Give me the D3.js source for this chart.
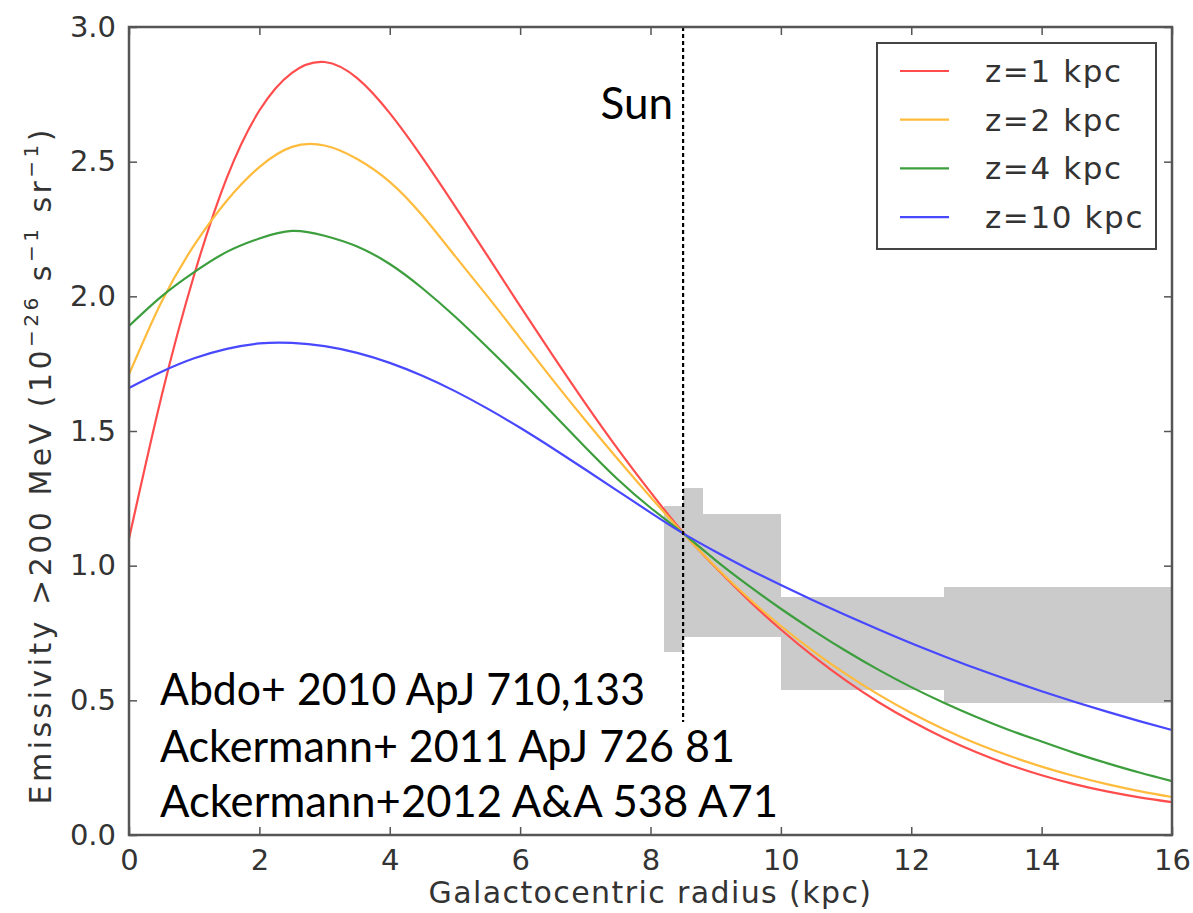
<!DOCTYPE html>
<html>
<head>
<meta charset="utf-8">
<script src="https://cdn.jsdelivr.net/npm/d3@7"></script>
<style>
  html, body { margin: 0; padding: 0; background: #fff; }
  svg { display: block; }
</style>
</head>
<body>
<svg id="chart" width="1193" height="913"></svg>
<script>
// Galactocentric radius samples (kpc)
const radius = [0, 0.5, 1, 1.5, 2, 2.5, 3, 3.5, 4, 4.5, 5, 5.5, 6, 6.5, 7, 7.5, 8,
  8.5, 9, 9.5, 10, 10.5, 11, 11.5, 12, 12.5, 13, 13.5, 14, 14.5, 15, 15.5, 16];

// Model emissivity profiles for different halo heights
const emisZ1 = [1.10, 1.63, 2.08, 2.44, 2.69, 2.83, 2.87, 2.81, 2.68, 2.515, 2.335, 2.15, 1.964,
  1.781, 1.603, 1.433, 1.273, 1.123, 0.993, 0.873, 0.763, 0.663, 0.573, 0.493, 0.423, 0.361,
  0.307, 0.261, 0.222, 0.189, 0.162, 0.140, 0.122];
const emisZ2 = [1.71, 1.98, 2.19, 2.355, 2.48, 2.555, 2.56, 2.51, 2.425, 2.30, 2.15, 2.00,
  1.845, 1.69, 1.54, 1.395, 1.255, 1.12, 0.995, 0.88, 0.776, 0.682, 0.597, 0.521, 0.453, 0.393,
  0.34, 0.294, 0.254, 0.219, 0.189, 0.163, 0.141];
const emisZ4 = [1.89, 2.00, 2.09, 2.165, 2.215, 2.243, 2.225, 2.185, 2.12, 2.03, 1.925, 1.81, 1.69,
  1.565, 1.44, 1.32, 1.215, 1.12, 1.02, 0.927, 0.84, 0.759, 0.683, 0.613, 0.549, 0.491, 0.438,
  0.39, 0.347, 0.305, 0.267, 0.232, 0.20];
const emisZ10 = [1.66, 1.72, 1.77, 1.805, 1.825, 1.827, 1.815, 1.79, 1.753, 1.705, 1.648, 1.583,
  1.512, 1.436, 1.357, 1.277, 1.197, 1.12, 1.052, 0.988, 0.928, 0.871, 0.816, 0.763, 0.712,
  0.664, 0.618, 0.575, 0.534, 0.495, 0.458, 0.423, 0.39];

const seriesNames = ["z=1 kpc", "z=2 kpc", "z=4 kpc", "z=10 kpc"];
const seriesColors = ["#ff4d4d", "#ffbb3c", "#3c9e3c", "#4848ff"];

// Measured emissivity bands: radial bin edges and lower/upper bounds
const binStart = [8.2, 8.5, 8.8, 10.0, 12.5];
const binEnd   = [8.5, 8.8, 10.0, 12.5, 16.0];
const bandLow  = [0.68, 0.735, 0.735, 0.54, 0.49];
const bandHigh = [1.22, 1.29, 1.19, 0.885, 0.92];

const sunRadius = 8.5;
const sunLineBottom = 0.42;

const xTicks = [0, 2, 4, 6, 8, 10, 12, 14, 16];
const yTicks = [0.0, 0.5, 1.0, 1.5, 2.0, 2.5, 3.0];

const references = [
  "Abdo+ 2010 ApJ 710,133",
  "Ackermann+ 2011 ApJ 726 81",
  "Ackermann+2012 A&A 538 A71"
];

// ---------------------------------------------------------------
const svg = d3.select("#chart");
const W = 1193, H = 913;
const m = { left: 129, right: 1172, top: 27, bottom: 835 };

svg.append("rect").attr("width", W).attr("height", H).attr("fill", "#fff");

const x = d3.scaleLinear().domain([0, 16]).range([m.left, m.right]);
const y = d3.scaleLinear().domain([0, 3]).range([m.bottom, m.top]);

const tickFont = "'DejaVu Sans', sans-serif";
const refFont = "Lato, 'Open Sans', sans-serif";
const axisColor = "#555";
const labelColor = "#333";

// Emissivity bands
const bands = d3.range(binStart.length).map(i => ({
  x0: binStart[i], x1: binEnd[i], lo: bandLow[i], hi: bandHigh[i]
}));
svg.append("g").selectAll("rect").data(bands).join("rect")
  .attr("x", d => x(d.x0))
  .attr("width", d => x(d.x1) - x(d.x0))
  .attr("y", d => y(d.hi))
  .attr("height", d => y(d.lo) - y(d.hi))
  .attr("fill", "#cbcbcb")
  .attr("shape-rendering", "crispEdges");

// Model curves (smooth spline through the sampled profile)
const allSeries = [emisZ1, emisZ2, emisZ4, emisZ10];
const line = d3.line()
  .x(d => x(d[0]))
  .y(d => y(d[1]))
  .curve(d3.curveNatural);

svg.append("clipPath").attr("id", "plotclip")
  .append("rect")
  .attr("x", m.left).attr("y", m.top)
  .attr("width", m.right - m.left).attr("height", m.bottom - m.top);

svg.append("g").attr("clip-path", "url(#plotclip)")
  .selectAll("path").data(allSeries).join("path")
  .attr("d", s => line(radius.map((r, i) => [r, s[i]])))
  .attr("fill", "none")
  .attr("stroke", (s, i) => seriesColors[i])
  .attr("stroke-width", 2.2)
  .attr("stroke-linejoin", "round");

// Solar circle marker
svg.append("line")
  .attr("x1", x(sunRadius)).attr("x2", x(sunRadius))
  .attr("y1", y(3.0)).attr("y2", y(sunLineBottom))
  .attr("stroke", "#000")
  .attr("stroke-width", 2.2)
  .attr("stroke-dasharray", "4,3");

svg.append("text")
  .attr("x", x(sunRadius) - 10)
  .attr("y", 119)
  .attr("text-anchor", "end")
  .attr("font-family", refFont)
  .attr("font-size", 44)
  .attr("fill", "#000")
  .text("Sun");

// Frame
svg.append("rect")
  .attr("x", m.left).attr("y", m.top)
  .attr("width", m.right - m.left).attr("height", m.bottom - m.top)
  .attr("fill", "none")
  .attr("stroke", axisColor)
  .attr("stroke-width", 2.5);

// Axes with inward ticks on all sides
const tickLen = 8;
const bottomAxis = d3.axisBottom(x).tickValues(xTicks).tickSize(-tickLen).tickPadding(14)
  .tickFormat(d3.format("d"));
const topAxis = d3.axisTop(x).tickValues(xTicks).tickSize(-tickLen).tickFormat("");
const leftAxis = d3.axisLeft(y).tickValues(yTicks).tickSize(-tickLen).tickPadding(13)
  .tickFormat(d3.format(".1f"));
const rightAxis = d3.axisRight(y).tickValues(yTicks).tickSize(-tickLen).tickFormat("");

function styleAxis(g) {
  g.select(".domain").remove();
  g.selectAll(".tick line").attr("stroke", axisColor).attr("stroke-width", 1.5);
  g.selectAll(".tick text")
    .attr("fill", labelColor)
    .attr("font-family", tickFont)
    .attr("font-size", 29);
}

svg.append("g").attr("transform", `translate(0,${m.bottom})`).call(bottomAxis).call(styleAxis);
svg.append("g").attr("transform", `translate(0,${m.top})`).call(topAxis).call(styleAxis);
svg.append("g").attr("transform", `translate(${m.left},0)`).call(leftAxis).call(styleAxis);
svg.append("g").attr("transform", `translate(${m.right},0)`).call(rightAxis).call(styleAxis);

// Axis titles
svg.append("text")
  .attr("x", (m.left + m.right) / 2)
  .attr("y", 903)
  .attr("text-anchor", "middle")
  .attr("font-family", tickFont)
  .attr("font-size", 30)
  .attr("letter-spacing", 1.4)
  .attr("fill", labelColor)
  .text("Galactocentric radius (kpc)");

const yTitle = svg.append("text")
  .attr("transform", "translate(51,467) rotate(-90)")
  .attr("text-anchor", "middle")
  .attr("font-family", tickFont)
  .attr("font-size", 30)
  .attr("textLength", 675)
  .attr("lengthAdjust", "spacing")
  .attr("fill", labelColor);
yTitle.append("tspan").text("Emissivity >200 MeV (10");
yTitle.append("tspan").attr("dy", -13).attr("font-size", 20).text("\u221226");
yTitle.append("tspan").attr("dy", 13).text("  s");
yTitle.append("tspan").attr("dy", -13).attr("font-size", 20).text("\u22121");
yTitle.append("tspan").attr("dy", 13).text("  sr");
yTitle.append("tspan").attr("dy", -13).attr("font-size", 20).text("\u22121");
yTitle.append("tspan").attr("dy", 13).text(")");

// Legend
const leg = svg.append("g");
leg.append("rect")
  .attr("x", 877).attr("y", 43)
  .attr("width", 279).attr("height", 206)
  .attr("fill", "#fff")
  .attr("stroke", "#444")
  .attr("stroke-width", 2);
seriesNames.forEach((name, i) => {
  const ly = 71 + i * 48.7;
  leg.append("line")
    .attr("x1", 900).attr("x2", 949)
    .attr("y1", ly).attr("y2", ly)
    .attr("stroke", seriesColors[i])
    .attr("stroke-width", 2.2);
  leg.append("text")
    .attr("x", 985).attr("y", ly + 11)
    .attr("font-family", tickFont)
    .attr("font-size", 31)
    .attr("letter-spacing", 1.6)
    .attr("fill", labelColor)
    .text(name);
});

// Reference list
const refBaselines = [705, 762, 817];
const refWidths = [485, 575, 618];
svg.append("g").selectAll("text").data(references).join("text")
  .attr("x", 160)
  .attr("y", (d, i) => refBaselines[i])
  .attr("font-family", refFont)
  .attr("font-size", 44)
  .attr("textLength", (d, i) => refWidths[i])
  .attr("lengthAdjust", "spacingAndGlyphs")
  .attr("fill", "#000")
  .text(d => d);
</script>
</body>
</html>
